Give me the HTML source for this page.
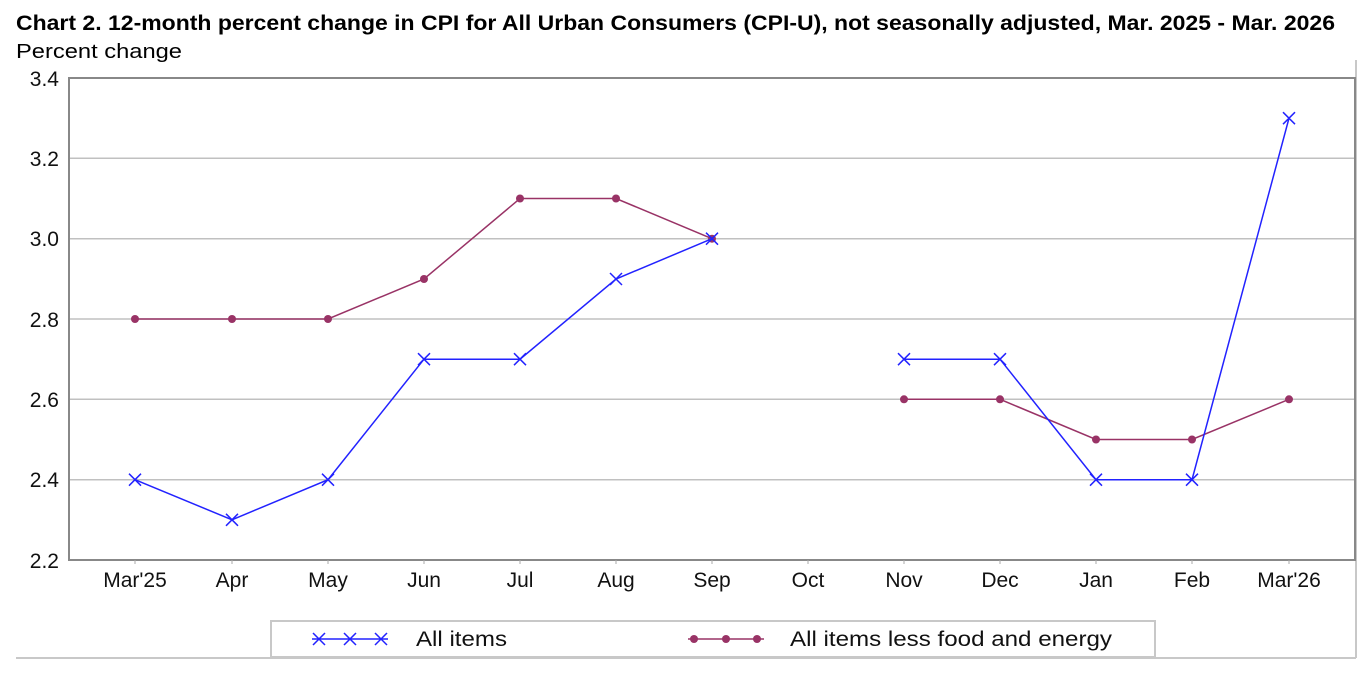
<!DOCTYPE html><html><head><style>body{margin:0;background:#fff}svg{display:block}text{font-family:"Liberation Sans",sans-serif}</style></head><body>
<svg width="1372" height="680" xmlns="http://www.w3.org/2000/svg">
<text x="16" y="30" font-size="21" font-weight="bold" fill="#000" textLength="1319" lengthAdjust="spacingAndGlyphs">Chart 2. 12-month percent change in CPI for All Urban Consumers (CPI-U), not seasonally adjusted, Mar. 2025 - Mar. 2026</text>
<text x="16" y="58" font-size="20" fill="#000" textLength="166" lengthAdjust="spacingAndGlyphs">Percent change</text>
<line x1="16" y1="658" x2="1356" y2="658" stroke="#c8c8c8" stroke-width="2"/>
<line x1="1356" y1="60" x2="1356" y2="658" stroke="#c8c8c8" stroke-width="2"/>
<g stroke="#c0c0c0" stroke-width="1.5">
<line x1="69" y1="158.3" x2="1355" y2="158.3"/><line x1="69" y1="238.7" x2="1355" y2="238.7"/><line x1="69" y1="319" x2="1355" y2="319"/><line x1="69" y1="399.3" x2="1355" y2="399.3"/><line x1="69" y1="479.7" x2="1355" y2="479.7"/>
</g>
<rect x="69" y="78" width="1286" height="482" fill="none" stroke="#888" stroke-width="2"/>
<g stroke="#aaa" stroke-width="1">
<path d="M135,560v4M232,560v4M328,560v4M424,560v4M520,560v4M616,560v4M712,560v4M808,560v4M904,560v4M1000,560v4M1096,560v4M1192,560v4M1289,560v4"/>
</g>
<g font-size="21" text-anchor="end" fill="#111">
<text x="59" y="86">3.4</text><text x="59" y="166">3.2</text><text x="59" y="246">3.0</text><text x="59" y="327">2.8</text><text x="59" y="407">2.6</text><text x="59" y="487">2.4</text><text x="59" y="568">2.2</text>
</g>
<g font-size="21" text-anchor="middle" fill="#111">
<text x="135" y="587">Mar'25</text><text x="232" y="587">Apr</text><text x="328" y="587">May</text><text x="424" y="587">Jun</text><text x="520" y="587">Jul</text><text x="616" y="587">Aug</text><text x="712" y="587">Sep</text><text x="808" y="587">Oct</text><text x="904" y="587">Nov</text><text x="1000" y="587">Dec</text><text x="1096" y="587">Jan</text><text x="1192" y="587">Feb</text><text x="1289" y="587">Mar'26</text>
</g>
<polyline fill="none" stroke="#993366" stroke-width="1.5" points="135,319 232,319 328,319 424,279 520,198.5 616,198.5 712,238.7"/>
<polyline fill="none" stroke="#993366" stroke-width="1.5" points="904,399.3 1000,399.3 1096,439.5 1192,439.5 1289,399.3"/>
<g fill="#993366">
<circle cx="135" cy="319" r="4"/><circle cx="232" cy="319" r="4"/><circle cx="328" cy="319" r="4"/><circle cx="424" cy="279" r="4"/><circle cx="520" cy="198.5" r="4"/><circle cx="616" cy="198.5" r="4"/><circle cx="712" cy="238.7" r="4"/><circle cx="904" cy="399.3" r="4"/><circle cx="1000" cy="399.3" r="4"/><circle cx="1096" cy="439.5" r="4"/><circle cx="1192" cy="439.5" r="4"/><circle cx="1289" cy="399.3" r="4"/>
</g>
<polyline fill="none" stroke="#2222ff" stroke-width="1.5" points="135,479.7 232,519.8 328,479.7 424,359.2 520,359.2 616,279 712,238.7"/>
<polyline fill="none" stroke="#2222ff" stroke-width="1.5" points="904,359.2 1000,359.2 1096,479.7 1192,479.7 1289,118.2"/>
<g stroke="#2222ff" stroke-width="1.5">
<path d="M129,473.7l12,12M141,473.7l-12,12M226,513.8l12,12M238,513.8l-12,12M322,473.7l12,12M334,473.7l-12,12M418,353.2l12,12M430,353.2l-12,12M514,353.2l12,12M526,353.2l-12,12M610,273l12,12M622,273l-12,12M706,232.7l12,12M718,232.7l-12,12M898,353.2l12,12M910,353.2l-12,12M994,353.2l12,12M1006,353.2l-12,12M1090,473.7l12,12M1102,473.7l-12,12M1186,473.7l12,12M1198,473.7l-12,12M1283,112.2l12,12M1295,112.2l-12,12"/>
</g>
<rect x="271" y="621" width="884" height="36" fill="#fff" stroke="#c8c8c8" stroke-width="2"/>
<line x1="312" y1="639" x2="388" y2="639" stroke="#2222ff" stroke-width="1.5"/>
<path d="M313,633l12,12M325,633l-12,12M344,633l12,12M356,633l-12,12M375,633l12,12M387,633l-12,12" stroke="#2222ff" stroke-width="1.5"/>
<text x="416" y="646" font-size="21" fill="#111" textLength="91" lengthAdjust="spacingAndGlyphs">All items</text>
<line x1="688" y1="639" x2="764" y2="639" stroke="#993366" stroke-width="1.5"/>
<circle cx="694" cy="639" r="4" fill="#993366"/><circle cx="726" cy="639" r="4" fill="#993366"/><circle cx="757" cy="639" r="4" fill="#993366"/>
<text x="790" y="646" font-size="21" fill="#111" textLength="322" lengthAdjust="spacingAndGlyphs">All items less food and energy</text>
</svg></body></html>
